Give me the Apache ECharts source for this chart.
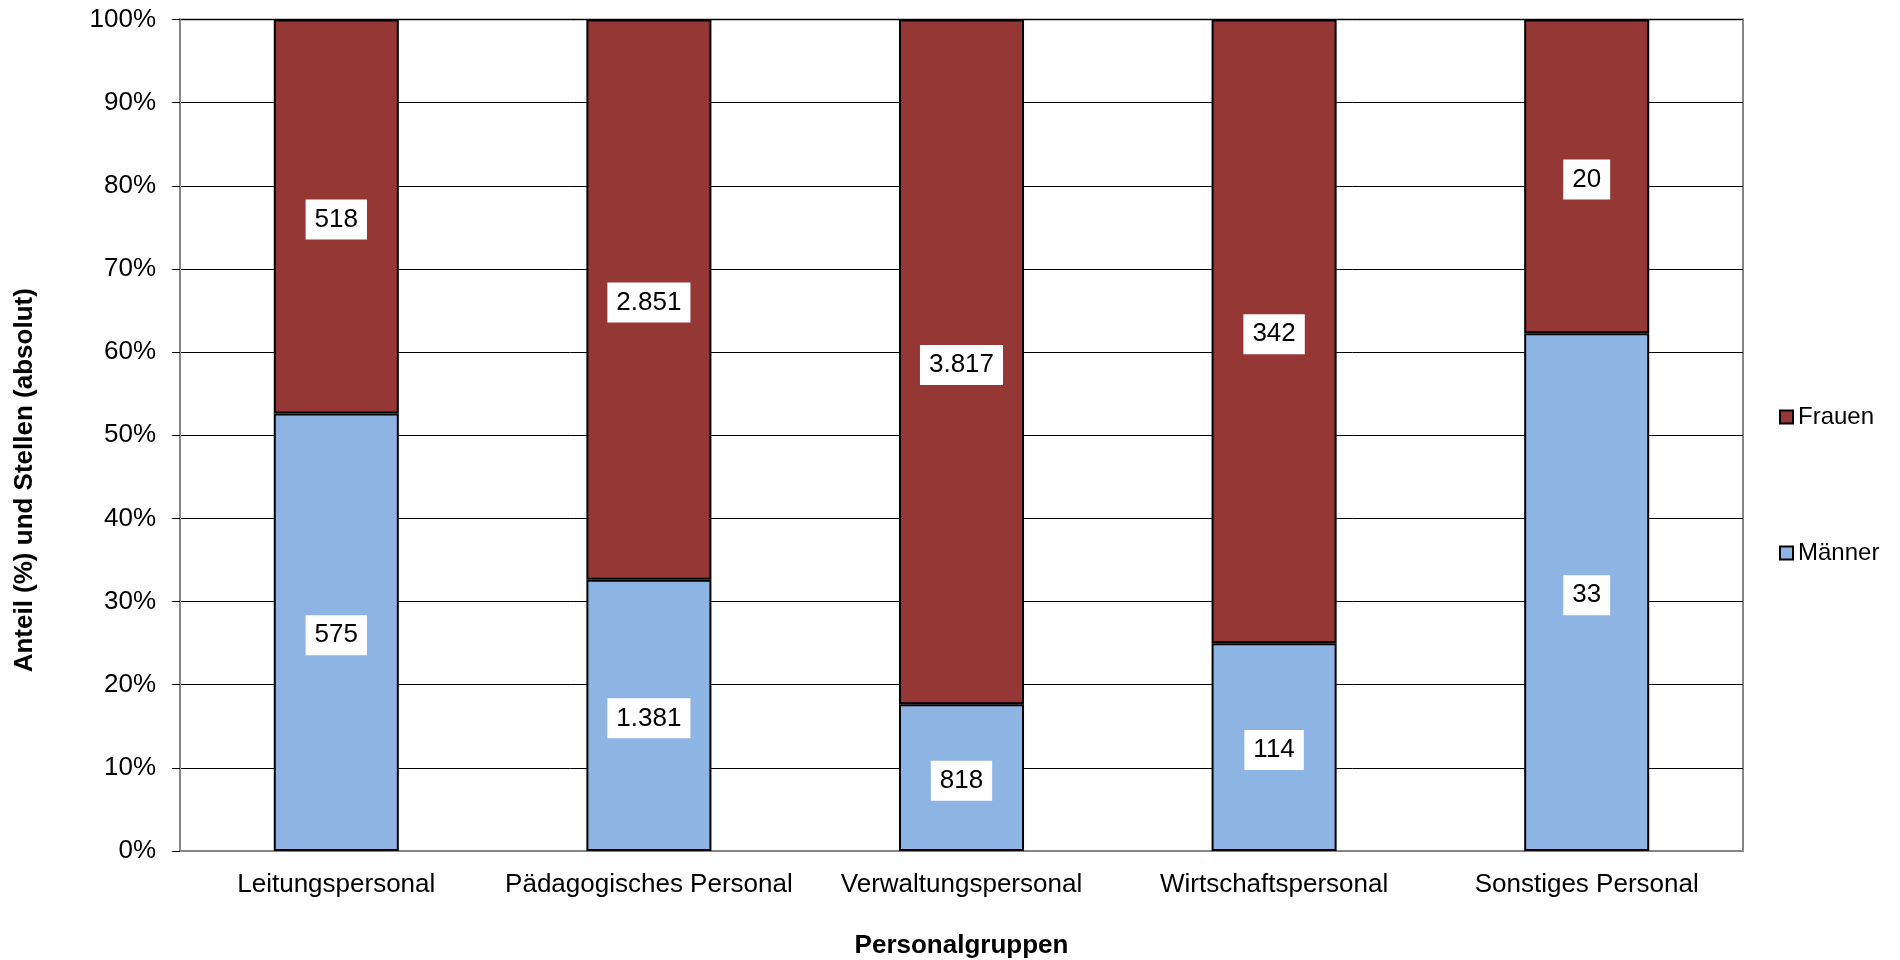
<!DOCTYPE html>
<html>
<head>
<meta charset="utf-8">
<script src="https://cdn.jsdelivr.net/npm/echarts@6/dist/echarts.min.js"></script>
<style>
  html, body { margin: 0; padding: 0; background: #fff; }
  #chartBox { width: 1900px; height: 960px; }
</style>
</head>
<body>
<div id="chartBox"></div>
<script>
// Personalgruppen und absolute Stellen
const categories = ['Leitungspersonal', 'Pädagogisches Personal', 'Verwaltungspersonal', 'Wirtschaftspersonal', 'Sonstiges Personal'];
const maenner = [575, 1381, 818, 114, 33];
const frauen = [518, 2851, 3817, 342, 20];
const yTicks = [0, 10, 20, 30, 40, 50, 60, 70, 80, 90, 100];

const fmt = v => String(v).replace(/\B(?=(\d{3})+(?!\d))/g, '.');
const share = (arr, i) => arr[i] / (maenner[i] + frauen[i]) * 100;

const labelStyle = {
  show: true,
  position: 'inside',
  offset: [0, 3],
  color: '#000',
  fontFamily: 'Liberation Sans',
  fontSize: 26,
  lineHeight: 30,
  backgroundColor: '#fff',
  padding: [5, 9, 5, 9]
};

let myChart = echarts.init(document.getElementById('chartBox'));
myChart.setOption({
  animation: false,
  textStyle: { fontFamily: 'Liberation Sans' },
  grid: {
    left: 180, right: 157, top: 19.5, bottom: 109,
    outerBoundsMode: 'none',
    show: true, borderColor: '#868686', borderWidth: 2
  },
  legend: {
    orient: 'vertical',
    left: 1774,
    top: 400,
    itemGap: 112,
    itemWidth: 13,
    itemHeight: 13,
    icon: 'rect',
    data: ['Frauen', 'Männer'],
    textStyle: { fontSize: 24, color: '#000' }
  },
  xAxis: {
    type: 'category',
    data: categories,
    name: 'Personalgruppen',
    nameLocation: 'middle',
    nameGap: 82,
    nameTextStyle: { fontSize: 26, fontWeight: 'bold', color: '#000' },
    axisLine: { lineStyle: { color: '#868686', width: 2 } },
    axisTick: { show: false },
    axisLabel: { interval: 0, hideOverlap: false, fontSize: 26, color: '#000', margin: 21 }
  },
  yAxis: {
    type: 'value',
    min: yTicks[0],
    max: yTicks[yTicks.length - 1],
    interval: 10,
    name: 'Anteil (%) und Stellen (absolut)',
    nameLocation: 'middle',
    nameGap: 142,
    nameTextStyle: { fontSize: 26, fontWeight: 'bold', color: '#000', padding: [0, 90, 0, 0] },
    axisLine: { show: true, lineStyle: { color: '#868686', width: 2 } },
    axisTick: { show: true, length: 8, lineStyle: { color: '#000' } },
    axisLabel: { fontSize: 26, color: '#000', margin: 24, formatter: '{value}%' },
    splitLine: { lineStyle: { color: '#000', width: 1 } }
  },
  series: [
    {
      name: 'Männer',
      type: 'bar',
      stack: 'total',
      barWidth: '40%',
      itemStyle: { color: '#8EB4E3', borderColor: '#000', borderWidth: 2 },
      label: Object.assign({}, labelStyle, { formatter: p => fmt(maenner[p.dataIndex]) }),
      data: maenner.map((v, i) => share(maenner, i))
    },
    {
      name: 'Frauen',
      type: 'bar',
      stack: 'total',
      barWidth: '40%',
      itemStyle: { color: '#953735', borderColor: '#000', borderWidth: 2 },
      label: Object.assign({}, labelStyle, { formatter: p => fmt(frauen[p.dataIndex]) }),
      data: frauen.map((v, i) => share(frauen, i))
    }
  ]
});
</script>
</body>
</html>
